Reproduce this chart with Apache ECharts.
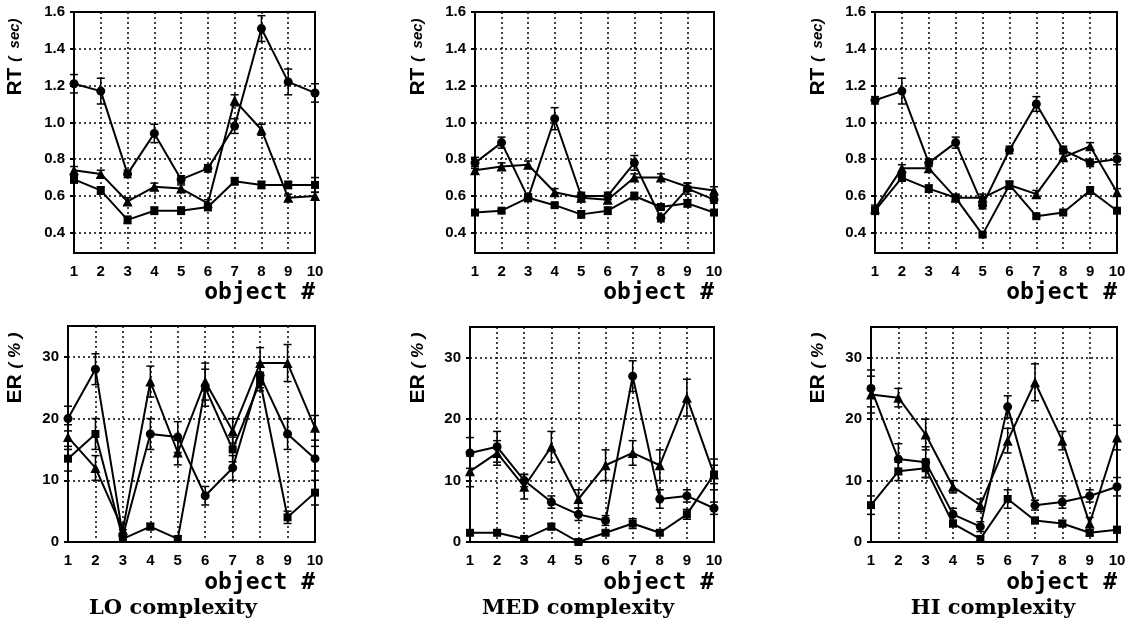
<!DOCTYPE html>
<html>
<head>
<meta charset="utf-8">
<script src="https://cdn.jsdelivr.net/npm/echarts@6/dist/echarts.min.js"></script>
<style>
  html, body { margin: 0; padding: 0; background: #fff; }
  #chart { width: 1129px; height: 629px; }
</style>
</head>
<body>
<div id="chart"></div>
<script>
// object numbers on the x axis
const objects = [1, 2, 3, 4, 5, 6, 7, 8, 9, 10];
const rtTicks = [0.4, 0.6, 0.8, 1.0, 1.2, 1.4, 1.6];
const erTicks = [0, 10, 20, 30];
const complexityLabels = ['LO complexity', 'MED complexity', 'HI complexity'];

// RT (sec), LO complexity
const rtLoCircle = [1.21, 1.17, 0.72, 0.94, 0.69, 0.75, 0.98, 1.51, 1.22, 1.16];
const rtLoCircleErr = [0.05, 0.07, 0.02, 0.05, 0.02, 0.02, 0.04, 0.07, 0.07, 0.05];
const rtLoTriangle = [0.74, 0.72, 0.57, 0.65, 0.64, 0.56, 1.12, 0.96, 0.59, 0.60];
const rtLoTriangleErr = [0.02, 0.02, 0.02, 0.02, 0.02, 0.02, 0.03, 0.03, 0.02, 0.02];
const rtLoSquare = [0.69, 0.63, 0.47, 0.52, 0.52, 0.54, 0.68, 0.66, 0.66, 0.66];
const rtLoSquareErr = [0.02, 0.02, 0.02, 0.02, 0.02, 0.02, 0.02, 0.02, 0.02, 0.04];

// RT (sec), MED complexity
const rtMedCircle = [0.78, 0.89, 0.59, 1.02, 0.60, 0.60, 0.78, 0.48, 0.64, 0.58];
const rtMedCircleErr = [0.03, 0.03, 0.02, 0.06, 0.02, 0.02, 0.04, 0.02, 0.03, 0.02];
const rtMedTriangle = [0.74, 0.76, 0.77, 0.62, 0.59, 0.58, 0.70, 0.70, 0.65, 0.63];
const rtMedTriangleErr = [0.02, 0.02, 0.02, 0.02, 0.02, 0.02, 0.02, 0.02, 0.02, 0.02];
const rtMedSquare = [0.51, 0.52, 0.59, 0.55, 0.50, 0.52, 0.60, 0.54, 0.56, 0.51];
const rtMedSquareErr = [0.01, 0.01, 0.02, 0.01, 0.02, 0.02, 0.02, 0.01, 0.02, 0.01];

// RT (sec), HI complexity
const rtHiCircle = [1.12, 1.17, 0.78, 0.89, 0.55, 0.85, 1.10, 0.85, 0.78, 0.80];
const rtHiCircleErr = [0.02, 0.07, 0.02, 0.03, 0.02, 0.02, 0.04, 0.02, 0.02, 0.03];
const rtHiTriangle = [0.53, 0.75, 0.75, 0.59, 0.59, 0.66, 0.61, 0.81, 0.87, 0.62];
const rtHiTriangleErr = [0.02, 0.02, 0.02, 0.02, 0.02, 0.02, 0.02, 0.02, 0.02, 0.02];
const rtHiSquare = [0.52, 0.70, 0.64, 0.59, 0.39, 0.66, 0.49, 0.51, 0.63, 0.52];
const rtHiSquareErr = [0.02, 0.02, 0.02, 0.01, 0.01, 0.02, 0.01, 0.01, 0.02, 0.01];

// ER (%), LO complexity
const erLoCircle = [20, 28, 1, 17.5, 17, 7.5, 12, 27, 17.5, 13.5];
const erLoCircleErr = [2, 2.5, 1, 2.5, 2.5, 1.5, 2, 2, 2.5, 2];
const erLoTriangle = [17, 12, 2, 26, 14.5, 26, 18, 29, 29, 18.5];
const erLoTriangleErr = [2, 2, 1, 2.5, 2, 3, 2, 2.5, 3, 2];
const erLoSquare = [13.5, 17.5, 0.5, 2.5, 0.5, 25, 15, 26, 4, 8];
const erLoSquareErr = [2, 2.5, 0.5, 0.5, 0.5, 3, 2, 1.5, 1, 2];

// ER (%), MED complexity
const erMedCircle = [14.5, 15.5, 10, 6.5, 4.5, 3.5, 27, 7, 7.5, 5.5];
const erMedCircleErr = [2.5, 2.5, 1, 1, 1, 0.8, 2.5, 1.5, 1, 1];
const erMedTriangle = [11.5, 14.5, 9, 15.5, 7, 12.5, 14.5, 12.5, 23.5, 11];
const erMedTriangleErr = [2.5, 2, 2, 2.5, 1.5, 2.5, 2, 2.5, 3, 2.5];
const erMedSquare = [1.5, 1.5, 0.5, 2.5, 0, 1.5, 3, 1.5, 4.5, 11];
const erMedSquareErr = [0.3, 0.3, 0.3, 0.5, 0.3, 0.3, 0.8, 0.3, 0.8, 1.5];

// ER (%), HI complexity
const erHiCircle = [25, 13.5, 13, 4.5, 2.5, 22, 6, 6.5, 7.5, 9];
const erHiCircleErr = [3, 2.5, 2.5, 1, 0.8, 1.8, 0.8, 1, 1, 1.5];
const erHiTriangle = [24, 23.5, 17.5, 9, 6, 16.5, 26, 16.5, 3, 17];
const erHiTriangleErr = [3, 1.5, 2.5, 1, 1, 2, 3, 1.5, 1, 2];
const erHiSquare = [6, 11.5, 12, 3, 0.5, 7, 3.5, 3, 1.5, 2];
const erHiSquareErr = [1.5, 1.5, 1.5, 0.5, 0.3, 1.5, 0.5, 0.5, 0.5, 0.5];

// panel layout, top row = RT, bottom row = ER
const panels = [
  { box: [74, 12, 241, 241], kind: 'rt', lines: [[rtLoCircle, rtLoCircleErr], [rtLoTriangle, rtLoTriangleErr], [rtLoSquare, rtLoSquareErr]] },
  { box: [475, 12, 239, 241], kind: 'rt', lines: [[rtMedCircle, rtMedCircleErr], [rtMedTriangle, rtMedTriangleErr], [rtMedSquare, rtMedSquareErr]] },
  { box: [875, 12, 242, 241], kind: 'rt', lines: [[rtHiCircle, rtHiCircleErr], [rtHiTriangle, rtHiTriangleErr], [rtHiSquare, rtHiSquareErr]] },
  { box: [68, 326, 247, 216], kind: 'er', lines: [[erLoCircle, erLoCircleErr], [erLoTriangle, erLoTriangleErr], [erLoSquare, erLoSquareErr]] },
  { box: [470, 327, 244, 215], kind: 'er', lines: [[erMedCircle, erMedCircleErr], [erMedTriangle, erMedTriangleErr], [erMedSquare, erMedSquareErr]] },
  { box: [871, 327, 246, 215], kind: 'er', lines: [[erHiCircle, erHiCircleErr], [erHiTriangle, erHiTriangleErr], [erHiSquare, erHiSquareErr]] }
];
const symbols = ['circle', 'triangle', 'rect'];
const symbolSizes = [9, 10, 8];

const tickFont = 'Liberation Sans';
const dotted = { color: '#000', width: 1.5, type: [2, 3] };

const grids = [], xAxes = [], yAxes = [], series = [];

panels.forEach(function (p, i) {
  grids.push({
    left: p.box[0], top: p.box[1], width: p.box[2], height: p.box[3],
    show: true, borderColor: '#000', borderWidth: 2
  });
  xAxes.push({
    gridIndex: i, type: 'value', min: 1, max: 10, interval: 1,
    axisLine: { lineStyle: { color: '#000', width: 2 } },
    axisTick: { show: false },
    axisLabel: { color: '#000', fontFamily: tickFont, fontWeight: 'bold', fontSize: 15, margin: 11 },
    splitLine: { show: true, lineStyle: dotted }
  });
  const ticks = p.kind === 'rt' ? rtTicks : erTicks;
  yAxes.push({
    gridIndex: i, type: 'value',
    min: p.kind === 'rt' ? 0.29 : 0,
    max: p.kind === 'rt' ? 1.6 : 35,
    axisLine: { lineStyle: { color: '#000', width: 2 } },
    axisTick: { show: true, length: 4, customValues: ticks, lineStyle: { color: '#000', width: 2 } },
    axisLabel: {
      color: '#000', fontFamily: tickFont, fontWeight: 'bold', fontSize: 15, margin: 9,
      customValues: ticks,
      formatter: function (v) { return p.kind === 'rt' ? v.toFixed(1) : String(v); }
    },
    splitLine: { show: true, lineStyle: dotted }
  });
  p.lines.forEach(function (pair, k) {
    const vals = pair[0], errs = pair[1];
    series.push({
      type: 'line', xAxisIndex: i, yAxisIndex: i,
      data: objects.map(function (o, j) { return [o, vals[j]]; }),
      symbol: symbols[k], symbolSize: symbolSizes[k], showSymbol: true,
      lineStyle: { color: '#000', width: 2 },
      itemStyle: { color: '#000' },
      animation: false, silent: true, z: 3
    });
    series.push({
      type: 'custom', xAxisIndex: i, yAxisIndex: i,
      data: objects.map(function (o, j) { return [o, vals[j] - errs[j], vals[j] + errs[j]]; }),
      renderItem: function (params, api) {
        const lo = api.coord([api.value(0), api.value(1)]);
        const hi = api.coord([api.value(0), api.value(2)]);
        const w = 4;
        const st = { stroke: '#000', lineWidth: 1.5 };
        return {
          type: 'group', children: [
            { type: 'line', shape: { x1: lo[0], y1: lo[1], x2: hi[0], y2: hi[1] }, style: st },
            { type: 'line', shape: { x1: hi[0] - w, y1: hi[1], x2: hi[0] + w, y2: hi[1] }, style: st },
            { type: 'line', shape: { x1: lo[0] - w, y1: lo[1], x2: lo[0] + w, y2: lo[1] }, style: st }
          ]
        };
      },
      animation: false, silent: true, z: 4
    });
  });
});

// texts around the panels
const graphics = [];
const yNameX = [15, 418, 818];
const objectRight = [315, 714, 1117];
const titleX = [173, 578, 993];
for (let c = 0; c < 3; c++) {
  graphics.push({
    type: 'text', x: yNameX[c], y: 57, rotation: Math.PI / 2,
    style: {
      text: '{a|RT }{b|(  sec)}', align: 'center', verticalAlign: 'middle',
      rich: {
        a: { fontFamily: 'Liberation Sans', fontWeight: 'bold', fontSize: 21, fill: '#000' },
        b: { fontFamily: 'Liberation Sans', fontStyle: 'italic', fontWeight: 'bold', fontSize: 15, fill: '#000' }
      }
    }
  });
  graphics.push({
    type: 'text', x: yNameX[c], y: 368, rotation: Math.PI / 2,
    style: {
      text: '{a|ER }{b|( % )}', align: 'center', verticalAlign: 'middle',
      rich: {
        a: { fontFamily: 'Liberation Sans', fontWeight: 'bold', fontSize: 21, fill: '#000' },
        b: { fontFamily: 'Liberation Sans', fontStyle: 'italic', fontWeight: 'bold', fontSize: 17, fill: '#000' }
      }
    }
  });
  graphics.push({
    type: 'text', x: objectRight[c], y: 293,
    style: { text: 'object #', align: 'right', verticalAlign: 'middle', fontFamily: 'DejaVu Sans Mono', fontWeight: 'bold', fontSize: 23, fill: '#000' }
  });
  graphics.push({
    type: 'text', x: objectRight[c], y: 583,
    style: { text: 'object #', align: 'right', verticalAlign: 'middle', fontFamily: 'DejaVu Sans Mono', fontWeight: 'bold', fontSize: 23, fill: '#000' }
  });
  graphics.push({
    type: 'text', x: titleX[c], y: 609,
    style: { text: complexityLabels[c], align: 'center', verticalAlign: 'middle', fontFamily: 'DejaVu Serif', fontWeight: 'bold', fontSize: 21, fill: '#000' }
  });
}

const myChart = echarts.init(document.getElementById('chart'), null, { renderer: 'canvas' });
myChart.setOption({
  backgroundColor: '#fff',
  animation: false,
  grid: grids,
  xAxis: xAxes,
  yAxis: yAxes,
  series: series,
  graphic: graphics
});
</script>
</body>
</html>
